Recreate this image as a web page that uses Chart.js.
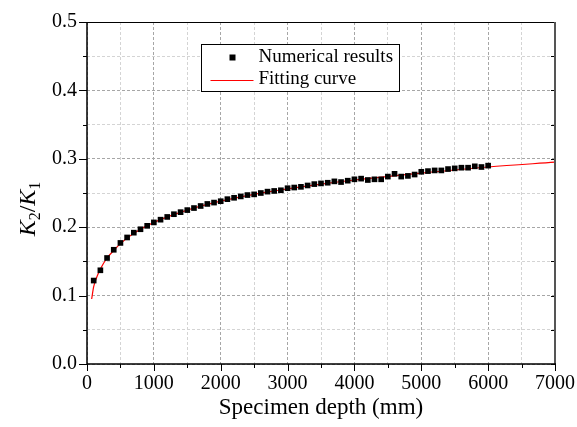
<!DOCTYPE html>
<html>
<head>
<meta charset="utf-8">
<script src="https://cdn.jsdelivr.net/npm/chart.js@4.4.1/dist/chart.umd.min.js"></script>
<style>
  html, body { margin: 0; padding: 0; background: #fff; }
  #wrap { width: 577px; height: 427px; }
</style>
</head>
<body>
<div id="wrap"><canvas id="ratioChart" width="577" height="427"></canvas></div>
<script>
// ========== DATA ==========

// specimen depth (mm) of each numerical case
const depths = [
    100, 200, 300, 400, 500, 600, 700, 800, 900, 1000,
    1100, 1200, 1300, 1400, 1500, 1600, 1700, 1800, 1900, 2000,
    2100, 2200, 2300, 2400, 2500, 2600, 2700, 2800, 2900, 3000,
    3100, 3200, 3300, 3400, 3500, 3600, 3700, 3800, 3900, 4000,
    4100, 4200, 4300, 4400, 4500, 4600, 4700, 4800, 4900, 5000,
    5100, 5200, 5300, 5400, 5500, 5600, 5700, 5800, 5900, 6000
];

// K2/K1 from the numerical runs
const ratios = [
    0.122, 0.137, 0.155, 0.167, 0.177, 0.185, 0.192, 0.197, 0.202, 0.207,
    0.211, 0.215, 0.219, 0.222, 0.225, 0.228, 0.231, 0.234, 0.236, 0.238,
    0.241, 0.243, 0.245, 0.247, 0.248, 0.250, 0.252, 0.253, 0.254, 0.257,
    0.258, 0.259, 0.261, 0.263, 0.264, 0.265, 0.267, 0.266, 0.268, 0.270,
    0.271, 0.269, 0.270, 0.270, 0.274, 0.278, 0.274, 0.275, 0.277, 0.281,
    0.282, 0.283, 0.283, 0.285, 0.286, 0.287, 0.287, 0.289, 0.288, 0.290
];

// fitted curve, sampled along the depth range
const fitDepths = [70, 100, 150, 200, 300, 400, 500, 700, 1000, 1500, 2000, 2500, 3000, 3500, 4000, 5000, 6000, 7000];
const fitRatios = [0.095, 0.113, 0.128, 0.139, 0.155, 0.166, 0.176, 0.191, 0.207, 0.225, 0.238, 0.248, 0.256, 0.263, 0.269, 0.279, 0.288, 0.295];

// labelled (major) ticks
const xTickLabels = ['0', '1000', '2000', '3000', '4000', '5000', '6000', '7000'];
const yTickLabels = ['0.0', '0.1', '0.2', '0.3', '0.4', '0.5'];

const SERIF = "'Times New Roman', 'Liberation Serif', serif";


// ========== HELPERS ==========

function isMajorX(v) {
    return xTickLabels.includes(String(Math.round(v))) && Math.abs(v - Math.round(v)) < 1e-6;
}

function isMajorY(v) {
    const s = v.toFixed(1);
    return Math.abs(v - parseFloat(s)) < 1e-6 && yTickLabels.includes(s);
}

// fixed axis box sizes; drop the label overhang padding so the plot frame stays put
function fixAxisBox(s) {
    if (s.axis === 'x') s.height = 63;
    else s.width = 87;
    s.paddingLeft = 0;
    s.paddingRight = 0;
    s.paddingTop = 0;
    s.paddingBottom = 0;
}


// ========== PLUGINS ==========

// axis frame and tick marks (minor ticks shorter, inward ticks on the right)
const framePlugin = {
    id: 'frame',
    afterDatasetsDraw(chart) {
        const { ctx, chartArea: a, scales: { x, y } } = chart;
        ctx.save();
        ctx.strokeStyle = '#000';
        ctx.lineWidth = 1;

        x.ticks.forEach(t => {
            const px = Math.round(x.getPixelForValue(t.value)) + 0.5;
            const len = isMajorX(t.value) ? 7 : 4;
            ctx.beginPath();
            ctx.moveTo(px, a.bottom);
            ctx.lineTo(px, a.bottom + len);
            ctx.stroke();
        });

        y.ticks.forEach(t => {
            const py = Math.round(y.getPixelForValue(t.value)) + 0.5;
            const len = isMajorY(t.value) ? 8 : 4;
            ctx.beginPath();
            ctx.moveTo(a.left - len, py);
            ctx.lineTo(a.left, py);
            ctx.moveTo(a.right - 4, py);
            ctx.lineTo(a.right, py);
            ctx.stroke();
        });

        // top
        ctx.beginPath();
        ctx.moveTo(a.left, a.top + 0.5);
        ctx.lineTo(a.right, a.top + 0.5);
        ctx.stroke();

        // right
        ctx.strokeStyle = '#555';
        ctx.lineWidth = 2;
        ctx.beginPath();
        ctx.moveTo(a.right, a.top);
        ctx.lineTo(a.right, a.bottom);
        ctx.stroke();

        // left + bottom
        ctx.strokeStyle = '#000';
        ctx.lineWidth = 1.5;
        ctx.beginPath();
        ctx.moveTo(a.left, a.top);
        ctx.lineTo(a.left, a.bottom);
        ctx.lineTo(a.right + 1, a.bottom);
        ctx.stroke();
        ctx.restore();
    }
};

// rotated y title with italic K and subscripts
const yTitlePlugin = {
    id: 'yTitle',
    afterDraw(chart) {
        const { ctx, chartArea: a } = chart;
        const parts = [
            { t: 'K', font: 'italic 24px ' + SERIF, dy: 0 },
            { t: '2', font: '16px ' + SERIF, dy: 5 },
            { t: '/', font: '24px ' + SERIF, dy: 0 },
            { t: 'K', font: 'italic 24px ' + SERIF, dy: 0 },
            { t: '1', font: '16px ' + SERIF, dy: 5 }
        ];
        ctx.save();
        let total = 0;
        parts.forEach(p => {
            ctx.font = p.font;
            p.w = ctx.measureText(p.t).width;
            total += p.w;
        });
        ctx.translate(35, (a.top + a.bottom) / 2 + 16);
        ctx.rotate(-Math.PI / 2);
        ctx.fillStyle = '#000';
        ctx.textBaseline = 'alphabetic';
        let cx = -total / 2;
        parts.forEach(p => {
            ctx.font = p.font;
            ctx.fillText(p.t, cx, p.dy);
            cx += p.w;
        });
        ctx.restore();
    }
};

// boxed legend inside the plot
const boxLegendPlugin = {
    id: 'boxLegend',
    afterDraw(chart) {
        const { ctx, chartArea: a } = chart;
        const pts = chart.data.datasets[0];
        const fit = chart.data.datasets[1];
        const bx = a.left + 114.5, by = a.top + 22.5;
        const bw = 198, bh = 47;

        ctx.save();
        ctx.fillStyle = '#fff';
        ctx.fillRect(bx, by, bw, bh);
        ctx.strokeStyle = '#000';
        ctx.lineWidth = 1;
        ctx.strokeRect(bx, by, bw, bh);

        // scatter marker
        ctx.fillStyle = pts.backgroundColor;
        ctx.fillRect(bx + 28, by + 10, 6, 6);

        // curve sample
        ctx.strokeStyle = fit.borderColor;
        ctx.lineWidth = fit.borderWidth;
        ctx.beginPath();
        ctx.moveTo(bx + 9, by + 36);
        ctx.lineTo(bx + 52, by + 36);
        ctx.stroke();

        ctx.fillStyle = '#000';
        ctx.font = '19px ' + SERIF;
        ctx.textBaseline = 'middle';
        ctx.fillText(pts.label, bx + 57, by + 13);
        ctx.fillText(fit.label, bx + 57, by + 35);
        ctx.restore();
    }
};


// ========== CHART ==========

const gridColor = ctx => {
    const v = ctx.tick.value;
    const major = ctx.scale.axis === 'x' ? isMajorX(v) : isMajorY(v);
    return major ? '#a6a6a6' : '#d4d4d4';
};

window.ratioChart = new Chart(document.getElementById('ratioChart'), {
    type: 'scatter',
    data: {
        datasets: [
            {
                label: 'Numerical results',
                data: depths.map((d, i) => ({ x: d, y: ratios[i] })),
                pointStyle: 'rect',
                pointRadius: 4,
                pointHoverRadius: 4,
                backgroundColor: '#000',
                borderColor: '#000',
                borderWidth: 0
            },
            {
                label: 'Fitting curve',
                type: 'line',
                data: fitDepths.map((d, i) => ({ x: d, y: fitRatios[i] })),
                showLine: true,
                borderColor: '#ff0000',
                borderWidth: 1.2,
                pointRadius: 0,
                cubicInterpolationMode: 'monotone',
                fill: false
            }
        ]
    },
    options: {
        responsive: false,
        animation: false,
        devicePixelRatio: 1,
        layout: { autoPadding: false, padding: { top: 22, right: 22, left: 0, bottom: 0 } },
        plugins: {
            legend: { display: false },
            tooltip: { enabled: false }
        },
        scales: {
            x: {
                type: 'linear',
                min: 0,
                max: 7000,
                afterFit: fixAxisBox,
                ticks: {
                    stepSize: 500,
                    autoSkip: false,
                    maxRotation: 0,
                    padding: 8,
                    color: '#000',
                    font: { family: SERIF, size: 20 },
                    callback: v => (isMajorX(v) ? String(Math.round(v)) : '')
                },
                grid: { color: gridColor, lineWidth: 1, drawTicks: false },
                border: { display: false, dash: [3, 2] },
                title: {
                    display: true,
                    text: 'Specimen depth (mm)',
                    color: '#000',
                    font: { family: SERIF, size: 23 },
                    padding: { top: 0, bottom: 5 }
                }
            },
            y: {
                min: 0,
                max: 0.5,
                afterFit: fixAxisBox,
                ticks: {
                    stepSize: 0.05,
                    autoSkip: false,
                    padding: 10,
                    color: '#000',
                    font: { family: SERIF, size: 20 },
                    callback: v => (isMajorY(v) ? v.toFixed(1) : '')
                },
                grid: { color: gridColor, lineWidth: 1, drawTicks: false },
                border: { display: false, dash: [3, 2] }
            }
        }
    },
    plugins: [framePlugin, yTitlePlugin, boxLegendPlugin]
});
</script>
</body>
</html>
